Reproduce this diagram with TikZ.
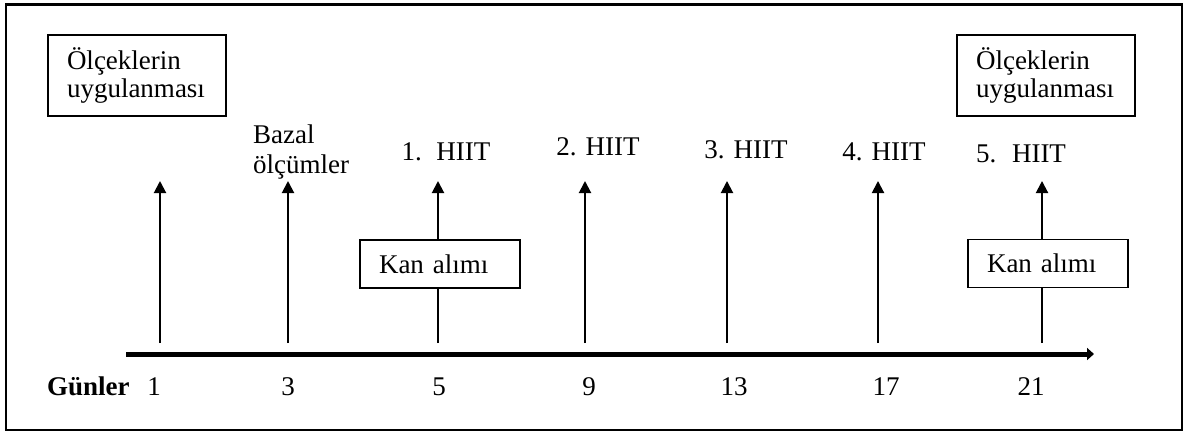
\documentclass[tikz,border=0pt]{standalone}
\usepackage{fontspec}
\setmainfont{Liberation Serif}
\usetikzlibrary{arrows.meta}
\begin{document}
\begin{tikzpicture}[x=1pt,y=-1pt,
  lbl/.style={font=\fontsize{27}{28}\selectfont, inner sep=0pt, anchor=base},
  lblw/.style={lbl, anchor=base west},
  boxed/.style={draw, line width=1.6pt, fill=white, font=\fontsize{27}{28}\selectfont,
    align=left, inner xsep=19pt, inner ysep=0pt},
  event/.style={line width=2pt, -{Triangle[length=12pt,width=12pt]}},
  axis/.style={line width=5pt, -{Triangle[length=7pt,width=12pt]}},
]
\useasboundingbox (0,0) rectangle (1190,432);
% outer frame
\draw[line width=1.8pt] (6,4) rectangle (1182,430);
\draw[line width=3pt] (5,4) -- (1183,4);

% time axis
\coordinate (a0) at (126,354);
\coordinate (a1) at (1094,354);
\draw[axis] (a0) -- (a1);

% event arrows
\foreach \i/\x in {1/160,2/288,3/438,4/585,5/727,6/878,7/1042}{
  \coordinate (b\i) at (\x,343);
  \coordinate (t\i) at (\x,181);
  \draw[event] (b\i) -- (t\i);
}

% boxes
\node[boxed, text width=140pt, minimum height=81pt] (olc1) at (137,75.5) {Ölçeklerin\\uygulanması};
\node[boxed, text width=140pt, minimum height=81pt] (olc2) at (1046,75.5) {Ölçeklerin\\uygulanması};
\node[boxed, text width=122pt, minimum height=48pt] (kan1) at (440,264) {Kan alımı};
\node[boxed, text width=122pt, minimum height=48pt] (kan2) at (1048,263.5) {Kan alımı};

% labels above arrows
\node[lblw] (baz1) at (253,143) {Bazal};
\node[lblw] (baz2) at (253,173) {ölçümler};
\node[lbl] (h1) at (446,160) {1.\hspace{0.2em} HIIT};
\node[lbl] (h2) at (598,155) {2. HIIT};
\node[lbl] (h3) at (746,158) {3. HIIT};
\node[lbl] (h4) at (884,160) {4. HIIT};
\node[lbl] (h5) at (1021,162) {5.\hspace{0.25em} HIIT};

% day numbers
\node[lblw, font=\fontsize{27}{28}\selectfont\bfseries] (gun) at (47,395) {Günler};
\foreach \n/\x in {1/154,3/288,5/439,9/589,13/734,17/886,21/1031}{
  \node[lbl] (d\n) at (\x,395) {\n};
}
\end{tikzpicture}
\end{document}
